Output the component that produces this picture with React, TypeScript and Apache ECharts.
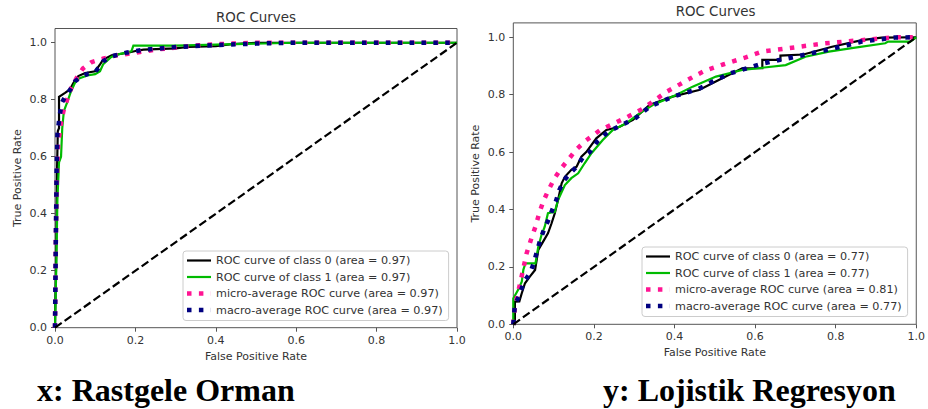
import React, { useEffect, useRef } from "react";
import * as echarts from "echarts";

// ---- Data ----
const axisTicks = [0, 0.2, 0.4, 0.6, 0.8, 1.0];
const chartTitles = ["ROC Curves", "ROC Curves"];
const captions = ["x: Rastgele Orman", "y: Lojistik Regresyon"];
const xAxisName = "False Positive Rate";
const yAxisName = "True Positive Rate";

const rfNames = [
  "ROC curve of class 0 (area = 0.97)",
  "ROC curve of class 1 (area = 0.97)",
  "micro-average ROC curve (area = 0.97)",
  "macro-average ROC curve (area = 0.97)",
];
const lrNames = [
  "ROC curve of class 0 (area = 0.77)",
  "ROC curve of class 1 (area = 0.77)",
  "micro-average ROC curve (area = 0.81)",
  "macro-average ROC curve (area = 0.77)",
];

// Random forest (left)
const rfClass0 = [
  [0, 0], [0.003, 0.25], [0.005, 0.55], [0.007, 0.69], [0.01, 0.7], [0.01, 0.81],
  [0.025, 0.824], [0.037, 0.836], [0.046, 0.859], [0.058, 0.883], [0.075, 0.894],
  [0.1, 0.9], [0.112, 0.924], [0.12, 0.941], [0.141, 0.956], [0.182, 0.965],
  [0.2, 0.971], [0.22, 0.976], [0.3, 0.98], [0.33, 0.985], [0.4, 0.988],
  [0.44, 0.995], [0.5, 1.0], [1, 1],
];
const rfClass1 = [
  [0, 0], [0.003, 0.2], [0.006, 0.45], [0.01, 0.58], [0.015, 0.6], [0.018, 0.7],
  [0.022, 0.76], [0.03, 0.79], [0.04, 0.83], [0.05, 0.86], [0.06, 0.875],
  [0.08, 0.885], [0.1, 0.89], [0.112, 0.9], [0.12, 0.925], [0.14, 0.95],
  [0.16, 0.96], [0.19, 0.97], [0.195, 0.99], [0.3, 0.99], [0.45, 0.995],
  [0.6, 1.0], [1, 1],
];
const rfMicro = [
  [0, 0], [0.002, 0.3], [0.004, 0.5], [0.008, 0.648], [0.015, 0.72], [0.021, 0.76],
  [0.03, 0.8], [0.04, 0.84], [0.054, 0.877], [0.069, 0.909], [0.091, 0.932],
  [0.119, 0.944], [0.15, 0.955], [0.2, 0.965], [0.25, 0.976], [0.3, 0.983],
  [0.35, 0.99], [0.4, 0.995], [0.5, 1.0], [1, 1],
];
const rfMacro = [
  [0, 0], [0.002, 0.3], [0.004, 0.55], [0.006, 0.68], [0.012, 0.748], [0.017, 0.789],
  [0.025, 0.81], [0.04, 0.84], [0.05, 0.865], [0.065, 0.88], [0.08, 0.89],
  [0.1, 0.897], [0.12, 0.935], [0.14, 0.952], [0.18, 0.966], [0.22, 0.975],
  [0.3, 0.985], [0.4, 0.992], [0.5, 0.997], [0.6, 1.0], [1, 1],
];

// Logistic regression (right)
const lrClass0 = [
  [0, 0], [0.004, 0.0], [0.004, 0.079], [0.015, 0.08], [0.021, 0.108], [0.029, 0.143],
  [0.041, 0.166], [0.054, 0.189], [0.058, 0.224], [0.062, 0.259], [0.074, 0.288],
  [0.086, 0.317], [0.095, 0.352], [0.103, 0.387], [0.111, 0.433], [0.12, 0.491],
  [0.128, 0.514], [0.144, 0.538], [0.157, 0.549], [0.169, 0.584], [0.181, 0.6],
  [0.206, 0.648], [0.231, 0.677], [0.264, 0.688], [0.297, 0.712], [0.338, 0.764],
  [0.395, 0.793], [0.461, 0.816], [0.494, 0.84], [0.527, 0.863], [0.568, 0.892],
  [0.618, 0.892], [0.618, 0.921], [0.663, 0.921], [0.663, 0.936], [0.72, 0.94],
  [0.791, 0.967], [0.865, 0.99], [0.914, 0.999], [1, 1],
];
const lrClass1 = [
  [0, 0], [0, 0.09], [0.012, 0.12], [0.021, 0.148], [0.025, 0.19], [0.03, 0.212],
  [0.055, 0.212], [0.062, 0.27], [0.07, 0.311], [0.078, 0.34], [0.086, 0.387],
  [0.103, 0.392], [0.111, 0.433], [0.128, 0.485], [0.144, 0.509], [0.161, 0.526],
  [0.177, 0.561], [0.194, 0.596], [0.222, 0.642], [0.247, 0.677], [0.28, 0.7],
  [0.313, 0.735], [0.346, 0.764], [0.404, 0.799], [0.445, 0.828], [0.503, 0.863],
  [0.568, 0.886], [0.676, 0.903], [0.725, 0.932], [0.783, 0.95], [0.84, 0.962],
  [0.923, 0.979], [0.93, 0.985], [0.985, 0.985], [1, 1],
];
const lrMicro = [
  [0, 0], [0.004, 0.06], [0.01, 0.1], [0.017, 0.143], [0.025, 0.195], [0.033, 0.247],
  [0.045, 0.3], [0.055, 0.34], [0.065, 0.39], [0.075, 0.43], [0.088, 0.47],
  [0.103, 0.51], [0.12, 0.545], [0.14, 0.58], [0.157, 0.61], [0.18, 0.64],
  [0.214, 0.675], [0.25, 0.7], [0.28, 0.72], [0.32, 0.75], [0.346, 0.775],
  [0.38, 0.81], [0.412, 0.835], [0.45, 0.865], [0.478, 0.885], [0.52, 0.905],
  [0.577, 0.93], [0.618, 0.95], [0.7, 0.965], [0.774, 0.979], [0.865, 0.99],
  [0.947, 1.0], [1, 1],
];
const lrMacro = [
  [0, 0], [0.004, 0.07], [0.015, 0.1], [0.022, 0.13], [0.03, 0.155], [0.042, 0.18],
  [0.05, 0.21], [0.058, 0.25], [0.066, 0.29], [0.076, 0.33], [0.086, 0.36],
  [0.097, 0.4], [0.106, 0.43], [0.115, 0.47], [0.125, 0.5], [0.14, 0.525],
  [0.158, 0.55], [0.172, 0.58], [0.19, 0.6], [0.21, 0.64], [0.235, 0.67],
  [0.27, 0.695], [0.305, 0.72], [0.34, 0.76], [0.4, 0.795], [0.46, 0.82],
  [0.5, 0.85], [0.54, 0.875], [0.62, 0.909], [0.7, 0.932], [0.78, 0.956],
  [0.865, 0.985], [0.947, 0.999], [1, 1],
];
const diagonal = [[0, 0], [1, 1]];

const FONT = "DejaVu Sans";
const TXT = "#333";
const FRAME = "#555";

const SOLID_ICON = "path://M0,0h24v2.2h-24z";
const DOTTED_ICON = "path://M0,0h4.5v4.5h-4.5z M11.9,0h4.5v4.5h-4.5z M23.9,0h0.1v4.5h-0.1z";

export default function App() {
  const ref = useRef<HTMLDivElement>(null);

  useEffect(() => {
    if (!ref.current) return;
    const chart = echarts.init(ref.current, null, { renderer: "svg" });

    const grids = [
      { left: 55, top: 28.5, width: 402, height: 299.2 },
      { left: 513.3, top: 22.9, width: 404.7, height: 301.4 },
    ];

    const mkX = (i: number) => ({
      gridIndex: i,
      type: "value",
      min: 0,
      max: 1,
      interval: 0.2,
      axisLine: { show: false },
      axisTick: { show: true, inside: false, length: 4, lineStyle: { color: FRAME, width: 1 }, customValues: axisTicks },
      axisLabel: {
        customValues: axisTicks,
        formatter: (v: number) => v.toFixed(1),
        margin: 7,
        fontSize: 11,
        color: TXT,
        fontFamily: FONT,
      },
      splitLine: { show: false },
      name: xAxisName,
      nameLocation: "middle",
      nameGap: i === 0 ? 22.5 : 23,
      nameTextStyle: { fontSize: 11, color: TXT, fontFamily: FONT },
    });
    const mkY = (i: number) => ({
      gridIndex: i,
      type: "value",
      min: 0,
      max: 1.05,
      interval: 0.2,
      axisLine: { show: false },
      axisTick: { show: true, inside: false, length: 4, lineStyle: { color: FRAME, width: 1 }, customValues: axisTicks },
      axisLabel: {
        customValues: axisTicks,
        formatter: (v: number) => v.toFixed(1),
        margin: 8,
        fontSize: 11,
        color: TXT,
        fontFamily: FONT,
      },
      splitLine: { show: false },
      name: yAxisName,
      nameLocation: "middle",
      nameGap: 32,
      nameTextStyle: { fontSize: 11, color: TXT, fontFamily: FONT },
    });

    const lineSeries = (name: string, data: number[][], gi: number, color: string, dotted: boolean) => ({
      name,
      type: "line",
      xAxisIndex: gi,
      yAxisIndex: gi,
      data,
      symbol: "none",
      showSymbol: false,
      silent: true,
      lineStyle: dotted
        ? { color, width: 4.5, type: [4.5, 7.4], cap: "butt" }
        : { color, width: 2.2, cap: "butt", join: "miter" },
      itemStyle: { color },
    });

    const diag = (gi: number) => ({
      name: "diag" + gi,
      type: "line",
      xAxisIndex: gi,
      yAxisIndex: gi,
      data: diagonal,
      symbol: "none",
      silent: true,
      lineStyle: { color: "#000", width: 2.2, type: [8.2, 3.6], cap: "butt" },
    });

    const colors = ["#000000", "#00bb00", "#ff1493", "#000080"];
    const rfSets = [rfClass0, rfClass1, rfMicro, rfMacro];
    const lrSets = [lrClass0, lrClass1, lrMicro, lrMacro];

    const series: any[] = [];
    rfSets.forEach((d, k) => series.push(lineSeries(rfNames[k], d, 0, colors[k], k >= 2)));
    series.push(diag(0));
    lrSets.forEach((d, k) => series.push(lineSeries(lrNames[k], d, 1, colors[k], k >= 2)));
    series.push(diag(1));

    const legendData = (names: string[]) =>
      names.map((n, k) => ({
        name: n,
        icon: k >= 2 ? DOTTED_ICON : SOLID_ICON,
        itemStyle: { color: colors[k], borderWidth: 0 },
      }));

    const legendBase = {
      orient: "vertical",
      itemWidth: 24,
      itemHeight: 11,
      itemGap: 5.5,
      padding: [4, 6, 5, 4],
      backgroundColor: "rgba(255,255,255,0.8)",
      borderColor: "#cccccc",
      borderWidth: 1,
      borderRadius: 3,
      selectedMode: false,
      itemStyle: { borderWidth: 0 },
      textStyle: { fontSize: 11.2, color: TXT, fontFamily: FONT },
    };

    chart.setOption({
      animation: false,
      backgroundColor: "#ffffff",
      title: [
        {
          text: chartTitles[0],
          left: 256,
          top: 10.5,
          textAlign: "center",
          padding: 0,
          textStyle: { fontSize: 13.4, fontWeight: "normal", color: TXT, fontFamily: FONT },
        },
        {
          text: chartTitles[1],
          left: 715.6,
          top: 4.5,
          textAlign: "center",
          padding: 0,
          textStyle: { fontSize: 13.4, fontWeight: "normal", color: TXT, fontFamily: FONT },
        },
      ],
      grid: grids.map((g) => ({ ...g, show: true, borderColor: FRAME, borderWidth: 1, backgroundColor: "transparent" })),
      xAxis: [mkX(0), mkX(1)],
      yAxis: [mkY(0), mkY(1)],
      legend: [
        { ...legendBase, data: legendData(rfNames), left: 183, top: 251 },
        { ...legendBase, data: legendData(lrNames), left: 642, top: 247 },
      ],
      series,
      graphic: [
        {
          type: "text",
          x: 37,
          y: 390,
          style: {
            text: captions[0],
            fontSize: 32,
            fontWeight: "bold",
            fontFamily: "Liberation Serif",
            fill: "#000",
            verticalAlign: "middle",
          },
        },
        {
          type: "text",
          x: 603,
          y: 390,
          style: {
            text: captions[1],
            fontSize: 32,
            fontWeight: "bold",
            fontFamily: "Liberation Serif",
            fill: "#000",
            verticalAlign: "middle",
          },
        },
      ],
    });

    return () => chart.dispose();
  }, []);

  return (
    <div
      ref={ref}
      style={{ position: "fixed", left: 0, top: 0, width: 928, height: 409, background: "#fff" }}
    />
  );
}
